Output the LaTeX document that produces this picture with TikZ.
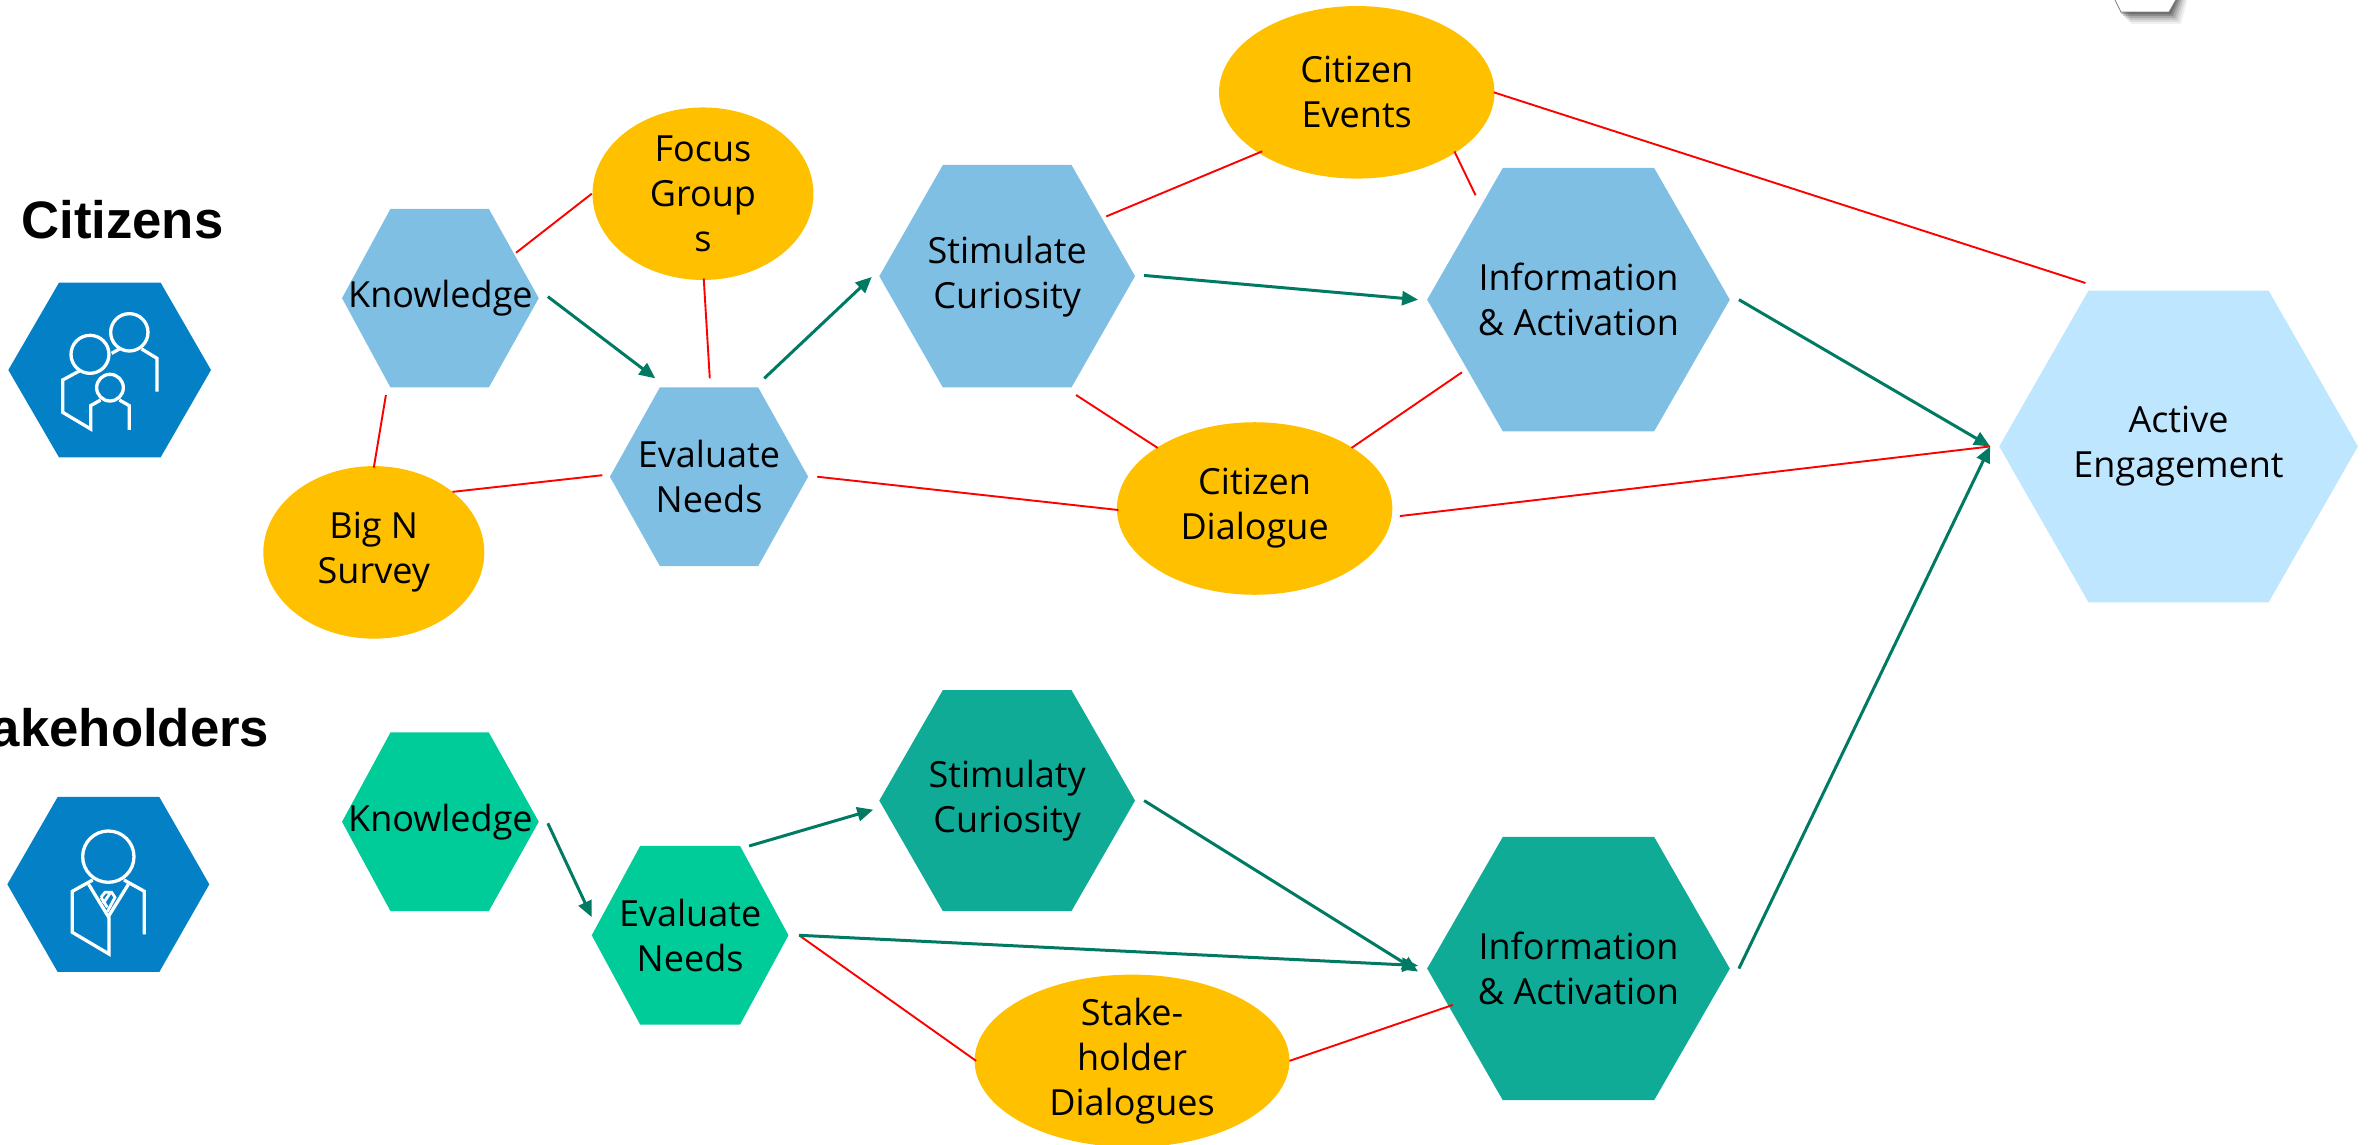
\documentclass[tikz,border=0pt]{standalone}
\usepackage{fontspec}
\setmainfont{Open Sans}
\newfontfamily\headfont{Liberation Sans}
\usetikzlibrary{arrows.meta}
\definecolor{hexblue}{HTML}{7FBFE3}
\definecolor{hexlight}{HTML}{BFE6FF}
\definecolor{hexgreen}{HTML}{00CC99}
\definecolor{hexteal}{HTML}{0FAB96}
\definecolor{ellorange}{HTML}{FFC000}
\definecolor{arrowgreen}{HTML}{007A63}
\definecolor{iconblue}{HTML}{0481C6}
\tikzset{
  label text/.style={align=center,inner sep=0pt,font=\fontsize{36}{45}\selectfont,text=black},
  link/.style={draw=red,line width=1.9pt},
  flow/.style={draw=arrowgreen,line width=3pt,-{Triangle[length=16pt,width=14pt]}},
  head/.style={inner sep=0pt,font=\headfont\bfseries\fontsize{52.7}{60}\selectfont,text=black},
  iconline/.style={draw=white,line width=3.3pt,line join=miter,fill=none},
}
% name, xleft, xtopleft, xtopright, xright, ytop, ybottom, colour, text
\newcommand{\hexn}[9]{%
  \fill[#8] (#2,{(#6+#7)/2}) -- (#3,#6) -- (#4,#6) -- (#5,{(#6+#7)/2}) -- (#4,#7) -- (#3,#7) -- cycle;
  \node[label text] (#1) at ({(#2+#5)/2},{(#6+#7)/2}) {#9};
}
\newcommand{\elln}[6]{%
  \fill[ellorange] (#2,#3) ellipse[x radius=#4,y radius=#5];
  \node[label text] (#1) at (#2,#3) {#6};
}
\begin{document}
\begin{tikzpicture}[x=1.5134pt,y=-1.5134pt]
\useasboundingbox (0,0) rectangle (1568,756);
% partial shadowed hexagon at the top edge
\begin{scope}[x=1pt,y=-1pt]
  \clip (2080,0) rectangle (2200,30);
  \foreach \o/\a in {12/.06,10/.08,8/.10,6/.14,4/.18,2/.22}{
    \fill[black,opacity=\a] (2115+\o,-2) -- (2121+\o-2,12+\o) -- (2169+\o,12+\o) -- (2176+\o,-2) -- cycle;
  }
  \fill[white] (2114,-2) -- (2121,12) -- (2169,12) -- (2177,-2) -- cycle;
  \draw[gray,line width=.8pt] (2114,-2) -- (2121,12) -- (2169,12) -- (2177,-2);
\end{scope}
% heads
\node[head,anchor=base west] (hc) at (14,157.5) {Citizens};
\node[head,anchor=base east] (hs) at (178,493.5) {Stakeholders};
% citizens icon
\begin{scope}[x=.33333pt,y=-.33333pt,shift={(0,510)}]
  \fill[iconblue] (25,600) -- (177,338) -- (482,338) -- (633,600) -- (482,862) -- (177,862) -- cycle;
  \draw[iconline] (388,487) circle[radius=56];
  \draw[iconline] (270,553) circle[radius=57];
  \draw[iconline] (330,653) circle[radius=40];
  \draw[iconline] (238,603) -- (188,630) -- (188,727) -- (272,777) -- (272,707) -- (302,690);
  \draw[iconline] (272,707) -- (272,780);
  \draw[iconline] (358,690) -- (388,707) -- (388,780);
  \draw[iconline] (335,550) -- (358,537);
  \draw[iconline] (425,537) -- (471,565) -- (471,665);
\end{scope}
% stakeholders icon
\begin{scope}[x=.33333pt,y=-.33333pt,shift={(0,2070)}]
  \fill[iconblue] (22,583) -- (173,321) -- (478,321) -- (628,583) -- (478,846) -- (173,846) -- cycle;
  \draw[iconline] (325,500) circle[radius=77];
  \draw[iconline] (278,570) -- (217,604) -- (217,727) -- (327,792) -- (327,680);
  \draw[iconline] (372,570) -- (433,604) -- (433,733);
  \draw[iconline] (266,583) -- (325,680) -- (385,583);
  \draw[iconline,line width=2.8pt] (303,622) -- (315,607) -- (335,607) -- (345,622) -- (322,665);
  \draw[iconline,line width=2.8pt] (303,622) -- (322,652);
  \draw[iconline,line width=2.8pt] (330,610) -- (310,640);
\end{scope}
% hexagons
\hexn{ka}{226}{258}{323}{356}{138}{256}{hexblue}{Knowledge}
\hexn{ea}{403}{436}{501}{534}{256}{374}{hexblue}{Evaluate\\Needs}
\hexn{sa}{581}{623}{708}{750}{109}{256}{hexblue}{Stimulate\\Curiosity}
\hexn{ia}{943}{993}{1093}{1143}{111}{285}{hexblue}{Information\\\& Activation}
\hexn{ae}{1321}{1380}{1499}{1558}{192}{398}{hexlight}{Active\\Engagement}
\hexn{kb}{226}{258}{323}{356}{484}{602}{hexgreen}{Knowledge}
\hexn{eb}{391}{423}{489}{521}{559}{677}{hexgreen}{Evaluate\\Needs}
\hexn{sb}{581}{623}{708}{750}{456}{602}{hexteal}{Stimulaty\\Curiosity}
\hexn{ib}{943}{993}{1093}{1143}{553}{727}{hexteal}{Information\\\& Activation}
% ellipses
\elln{fg}{464.5}{128}{73}{57}{Focus\\Group\\s}
\elln{be}{247}{365}{73}{57}{Big N\\Survey}
\elln{ce}{896.5}{61}{91}{57}{Citizen\\Events}
\elln{cd}{829}{336}{91}{57}{Citizen\\Dialogue}
\elln{sd}{748}{701}{104}{57}{Stake-\\holder\\Dialogues}
% red links
\draw[link] ([shift={(50,-30)}]ka.center) -- ([shift={(-73.5,0)}]fg.center);
\draw[link] ([shift={(0.5,56)}]fg.center) -- ([shift={(0.5,-65)}]ea.center);
\draw[link] ([shift={(-36,64)}]ka.center) -- ([shift={(0,-56)}]be.center);
\draw[link] ([shift={(52,-40)}]be.center) -- ([shift={(-70.5,-1)}]ea.center);
\draw[link] ([shift={(71.5,0)}]ea.center) -- ([shift={(-90,1)}]cd.center);
\draw[link] ([shift={(65.5,-39.5)}]sa.center) -- ([shift={(-62.5,39)}]ce.center);
\draw[link] ([shift={(64.5,39)}]ce.center) -- ([shift={(-68,-69)}]ia.center);
\draw[link] ([shift={(90.5,0)}]ce.center) -- ([shift={(-61.5,-108)}]ae.center);
\draw[link] ([shift={(45.5,78.5)}]sa.center) -- ([shift={(-64,-40)}]cd.center);
\draw[link] ([shift={(64,-40)}]cd.center) -- ([shift={(-77,48)}]ia.center);
\draw[link] ([shift={(96,5)}]cd.center) -- ([shift={(-124.5,0)}]ae.center);
\draw[link] ([shift={(72,0)}]eb.center) -- ([shift={(-103,0)}]sd.center);
\draw[link] ([shift={(104,0)}]sd.center) -- ([shift={(-83,24)}]ib.center);
% green arrows
\draw[flow] ([shift={(71,-1)}]ka.center) -- ([shift={(-35.5,-65)}]ea.center);
\draw[flow] ([shift={(36.5,-65)}]ea.center) -- ([shift={(-89.5,0.5)}]sa.center);
\draw[flow] ([shift={(90.5,-0.5)}]sa.center) -- ([shift={(-106,0)}]ia.center);
\draw[flow] ([shift={(106,0)}]ia.center) -- ([shift={(-124.5,0)}]ae.center);
\draw[flow] ([shift={(71,1)}]kb.center) -- ([shift={(-65,-12)}]eb.center);
\draw[flow] ([shift={(39,-59)}]eb.center) -- ([shift={(-88.5,6)}]sb.center);
\draw[flow] ([shift={(90.5,0)}]sb.center) -- ([shift={(-106,2)}]ib.center);
\draw[flow] ([shift={(72,0)}]eb.center) -- ([shift={(-106,-2)}]ib.center);
\draw[flow] ([shift={(106,0)}]ib.center) -- ([shift={(-124.5,0)}]ae.center);
\end{tikzpicture}
\end{document}
